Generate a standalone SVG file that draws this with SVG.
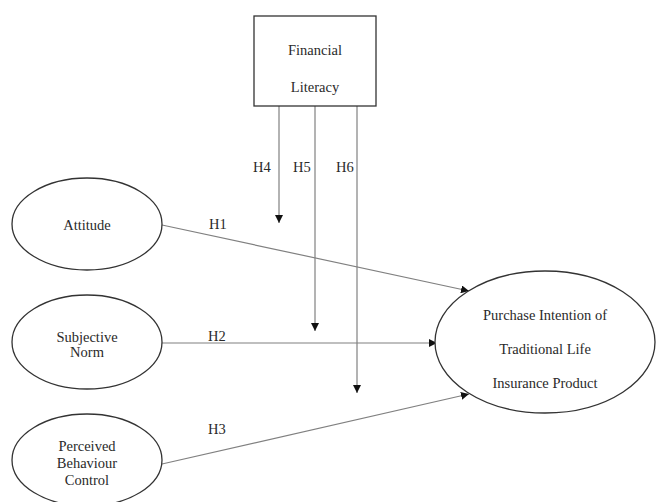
<svg xmlns="http://www.w3.org/2000/svg" width="656" height="502" viewBox="0 0 656 502">
  <style>
    text { font-family: "Liberation Serif", "Times New Roman", serif; font-size: 14.5px; fill: #2a2a2a; text-anchor: middle; }
    .node { fill: #ffffff; stroke: #333333; stroke-width: 1.3; }
    .link { fill: none; stroke: #808080; stroke-width: 1.2; }
    .lbl { text-anchor: start; }
  </style>
  <defs>
    <marker id="arrow" viewBox="0 0 10 10" refX="10" refY="5" markerWidth="8" markerHeight="8" markerUnits="userSpaceOnUse" orient="auto">
      <path d="M0,0 L10,5 L0,10 z" fill="#111111"/>
    </marker>
  </defs>
  <rect width="656" height="502" fill="#ffffff"/>

  <g id="connectors">
    <line class="link" x1="279" y1="106" x2="279" y2="223" marker-end="url(#arrow)"/>
    <line class="link" x1="315" y1="106" x2="315" y2="331" marker-end="url(#arrow)"/>
    <line class="link" x1="357" y1="106" x2="357" y2="393" marker-end="url(#arrow)"/>
    <line class="link" x1="162" y1="225" x2="469" y2="291" marker-end="url(#arrow)"/>
    <line class="link" x1="162" y1="343" x2="437" y2="343" marker-end="url(#arrow)"/>
    <line class="link" x1="162" y1="464" x2="469" y2="394" marker-end="url(#arrow)"/>
    <text class="lbl" x="253" y="172">H4</text>
    <text class="lbl" x="293" y="172">H5</text>
    <text class="lbl" x="336" y="172">H6</text>
    <text class="lbl" x="209" y="229">H1</text>
    <text class="lbl" x="208" y="341">H2</text>
    <text class="lbl" x="208" y="434">H3</text>
  </g>

  <g id="financial-literacy">
    <rect class="node" x="254" y="16" width="122" height="90"/>
    <text x="315" y="55">Financial</text>
    <text x="315" y="92">Literacy</text>
  </g>

  <g id="attitude">
    <ellipse class="node" cx="87" cy="224" rx="75" ry="46"/>
    <text x="87" y="230">Attitude</text>
  </g>

  <g id="subjective-norm">
    <ellipse class="node" cx="87" cy="342" rx="75" ry="47"/>
    <text x="87" y="342">Subjective</text>
    <text x="87" y="357">Norm</text>
  </g>

  <g id="perceived-behaviour-control">
    <ellipse class="node" cx="87" cy="460" rx="75" ry="46"/>
    <text x="87" y="451">Perceived</text>
    <text x="87" y="468">Behaviour</text>
    <text x="87" y="485">Control</text>
  </g>

  <g id="purchase-intention">
    <ellipse class="node" cx="545" cy="342" rx="110" ry="71"/>
    <text x="545" y="320">Purchase Intention of</text>
    <text x="545" y="354">Traditional Life</text>
    <text x="545" y="388">Insurance Product</text>
  </g>
</svg>
